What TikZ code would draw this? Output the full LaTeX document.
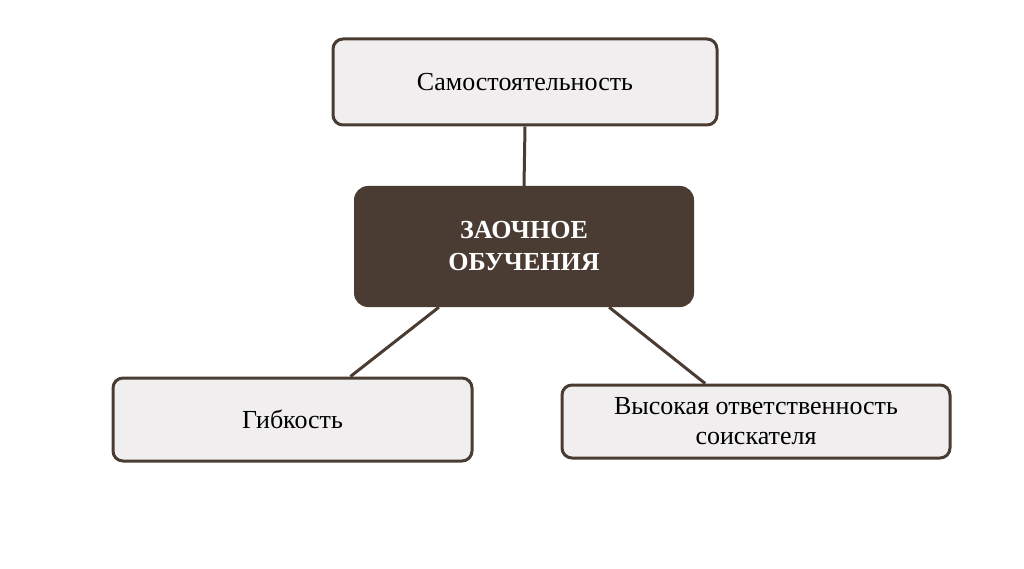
\documentclass[tikz,border=0pt]{standalone}
\usepackage{fontspec}
\setmainfont{Liberation Serif}
\usetikzlibrary{calc}
\definecolor{brn}{HTML}{4A3C33}
\definecolor{lt}{HTML}{F0EEEE}
\tikzset{box/.style={draw=brn,line width=3pt,fill=lt,rounded corners=10pt,inner sep=0pt,font=\fontsize{26}{30}\selectfont,align=center},
main/.style={fill=brn,rounded corners=14pt,inner sep=0pt,text=white,font=\fontsize{26}{32}\selectfont\bfseries,align=center},
link/.style={draw=brn,line width=3pt}}
\begin{document}
\begin{tikzpicture}[x=1pt,y=-1pt]
\useasboundingbox (0,0) rectangle (1024,569);
\node[box,minimum width=384pt,minimum height=86pt] (top) at (525,82) {Самостоятельность};
\node[main,minimum width=340pt,minimum height=121pt] (c) at (524,246.5) {ЗАОЧНОЕ\\ОБУЧЕНИЯ};
\node[box,minimum width=359pt,minimum height=83pt] (l) at (292.5,419.5) {Гибкость};
\node[box,minimum width=388pt,minimum height=73pt] (r) at (756,421.5) {Высокая ответственность\\соискателя};
\draw[link] (top.south) -- (c.north);
\draw[link] ($(c.south west)!0.25!(c.south east)$) -- ($(l.north west)!0.66!(l.north east)$);
\draw[link] ($(c.south west)!0.75!(c.south east)$) -- ($(r.north west)!0.37!(r.north east)$);
\end{tikzpicture}
\end{document}
